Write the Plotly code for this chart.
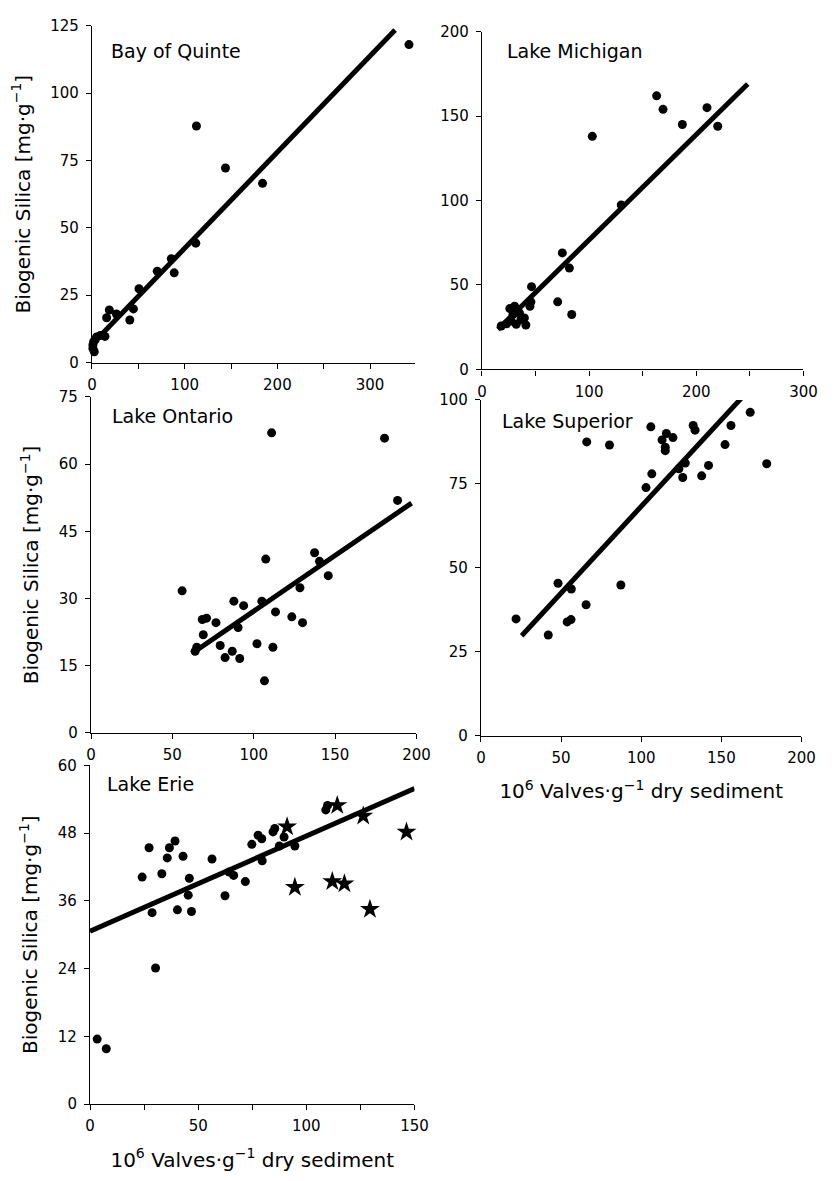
import plotly.graph_objects as go

# ---- data ----
quinte_x = [342, 112.7, 144, 184, 112, 85.6, 88.7, 70.4, 50.7, 44.7, 40.8, 26.4, 18.7,
            15.8, 14, 8.8, 5, 1.8, 1, 2.5, 1, 3.5]
quinte_y = [118, 87.8, 72.2, 66.5, 44.3, 38.5, 33.3, 33.9, 27.4, 19.9, 15.8, 18, 19.5,
            16.6, 9.7, 10, 9.5, 7.7, 5.2, 4, 6.5, 8.5]
quinte_fit_x = [3, 327]
quinte_fit_y = [7.8, 123.4]

michigan_x = [301, 163, 169, 187, 210, 220, 103, 130, 75, 81.6, 70.7, 83.8, 46.3, 45.7,
              44.8, 26, 29, 35, 39.6, 41, 32, 23, 18, 27.4, 36.5, 30.5]
michigan_y = [157, 162, 154, 145, 155, 144, 138, 97.4, 69, 60, 40, 32.5, 49, 40,
              37.4, 36, 32.5, 33.5, 30.5, 26.3, 26.7, 27, 25.7, 28.6, 29.6, 37.4]
michigan_fit_x = [15, 248]
michigan_fit_y = [23.7, 169]

ontario_x = [56, 111, 180.4, 188.4, 107.4, 137.4, 140.4, 145.8, 128.4, 105, 87.8, 93.8,
             113.4, 123.4, 130, 68.4, 71, 76.8, 69, 90.4, 79.4, 86.8, 82.4, 91.4, 102,
             111.8, 106.6, 65, 64]
ontario_y = [31.7, 67, 65.8, 51.9, 38.8, 40.2, 38.3, 35.1, 32.4, 29.4, 29.4, 28.4,
             27, 25.9, 24.6, 25.3, 25.6, 24.6, 21.9, 23.5, 19.5, 18.2, 16.8, 16.6, 19.9,
             19.1, 11.6, 19.1, 18.2]
ontario_fit_x = [62, 197]
ontario_fit_y = [17.7, 51.3]

superior_x = [168, 178.3, 156, 152.3, 142, 137.7, 132.4, 133.6, 127.5, 123.5, 125.9, 106,
              115.7, 119.8, 113, 115, 115, 106.6, 103, 66, 80.2, 48.1, 56.4, 87.3, 65.6,
              53.8, 56.2, 21.9, 42]
superior_y = [96.3, 81, 92.4, 86.7, 80.5, 77.4, 92.4, 91, 81.2, 79.5, 76.9, 92,
              90, 88.8, 88.1, 85.9, 84.9, 78, 73.9, 87.5, 86.6, 45.4, 43.7, 44.9, 39,
              33.9, 34.6, 34.8, 30]
superior_fit_x = [25.4, 162.4]
superior_fit_y = [29.8, 100.5]

erie_x = [3.3, 7.5, 30.3, 24.1, 27.3, 28.7, 33.2, 35.7, 36.7, 39.3, 43, 40.4, 45.9, 45.4,
          46.9, 56.4, 62.4, 66.4, 64.3, 71.8, 74.8, 77.7, 79.4, 79.6, 84.6, 85.4, 89.7,
          87.5, 94.7, 109, 109.8]
erie_y = [11.5, 9.8, 24.1, 40.2, 45.4, 33.9, 40.8, 43.6, 45.4, 46.6, 43.9, 34.4, 40, 37,
          34.1, 43.4, 36.9, 40.5, 41.1, 39.4, 46, 47.6, 47, 43.1, 48.2, 48.8, 47.3,
          45.7, 45.7, 52.1, 52.9]
erie_star_x = [91.1, 94.7, 112, 114.3, 117.6, 126.3, 129.4, 146.3]
erie_star_y = [49.1, 38.4, 39.4, 52.9, 39, 51, 34.5, 48.2]
erie_fit_x = [0, 150]
erie_fit_y = [30.6, 55.9]

Y_TITLE = "Biogenic Silica [mg·g<sup>−1</sup>]"
X_TITLE = "10<sup>6</sup> Valves·g<sup>−1</sup> dry sediment"
FONT = "DejaVu Sans"

W, H = 837, 1181


def dom_x(a, b):
    return [a / W, b / W]


def dom_y(top, bottom):
    return [1 - bottom / H, 1 - top / H]


panels = [
    # name, xs, ys, fx, fy, xdom, ydom, xrange, xticks, xminor, yticks, ytitle, xtitle, label pos
    ("Bay of Quinte", quinte_x, quinte_y, quinte_fit_x, quinte_fit_y,
     dom_x(89, 420), dom_y(17, 359), [0, 349],
     [0, 100, 200, 300], [50, 150, 250],
     [0, 25, 50, 75, 100, 125], True, False, (106, 43)),
    ("Lake Michigan", michigan_x, michigan_y, michigan_fit_x, michigan_fit_y,
     dom_x(488, 817), dom_y(23, 366), [0, 300],
     [0, 100, 200, 300], [50, 150, 250],
     [0, 50, 100, 150, 200], False, False, (512, 43)),
    ("Lake Ontario", ontario_x, ontario_y, ontario_fit_x, ontario_fit_y,
     dom_x(88, 421), dom_y(394, 735), [0, 200],
     [0, 50, 100, 150, 200], [],
     [0, 15, 30, 45, 60, 75], True, False, (107, 413)),
    ("Lake Superior", superior_x, superior_y, superior_fit_x, superior_fit_y,
     dom_x(487, 815), dom_y(397, 738), [0, 200],
     [0, 50, 100, 150, 200], [],
     [0, 25, 50, 75, 100], False, True, (507, 418)),
    ("Lake Erie", erie_x, erie_y, erie_fit_x, erie_fit_y,
     dom_x(87, 419), dom_y(768, 1112), [0, 150],
     [0, 50, 100, 150], [25, 75, 125],
     [0, 12, 24, 36, 48, 60], True, True, (102, 787)),
]

fig = go.Figure()
layout = {}
for i, (name, xs, ys, fx, fy, xd, yd, xr, xt, xm, yt, has_yt, has_xt, lab) in enumerate(panels):
    n = "" if i == 0 else str(i + 1)
    xa, ya = "x" + n, "y" + n
    fig.add_trace(go.Scatter(x=fx, y=fy, mode="lines", xaxis=xa, yaxis=ya,
                             line=dict(color="black", width=5), cliponaxis=False,
                             showlegend=False))
    fig.add_trace(go.Scatter(x=xs, y=ys, mode="markers", xaxis=xa, yaxis=ya,
                             marker=dict(color="black", size=9), cliponaxis=False,
                             showlegend=False))
    if name == "Lake Erie":
        fig.add_trace(go.Scatter(x=erie_star_x, y=erie_star_y, mode="markers",
                                 xaxis=xa, yaxis=ya, cliponaxis=False,
                                 marker=dict(color="black", size=15, symbol="star",
                                             line=dict(width=0)),
                                 showlegend=False))
    ax = dict(domain=xd, range=xr, tickvals=xt, anchor=ya,
              showline=True, linecolor="black", linewidth=1.2, ticks="outside",
              ticklen=5, tickcolor="black", showgrid=False, zeroline=False,
              ticklabelstandoff=3,
              tickfont=dict(size=15, color="black", family=FONT))
    if xm:
        ax["minor"] = dict(tickvals=xm, ticks="outside", ticklen=5, tickcolor="black",
                           showgrid=False)
    ay = dict(domain=yd, range=[0, yt[-1]], tickvals=yt, anchor=xa,
              showline=True, linecolor="black", linewidth=1.2, ticks="outside",
              ticklen=5, tickcolor="black", showgrid=False, zeroline=False,
              ticklabelstandoff=4,
              tickfont=dict(size=15, color="black", family=FONT))
    if has_yt:
        ay["title"] = dict(text=Y_TITLE, font=dict(size=20, color="black", family=FONT),
                           standoff=14)
    if has_xt:
        ax["title"] = dict(text=X_TITLE, font=dict(size=20, color="black", family=FONT),
                           standoff=18)
    layout["xaxis" + n] = ax
    layout["yaxis" + n] = ay
    fig.add_annotation(text=name, xref="paper", yref="paper",
                       x=lab[0] / W, y=1 - lab[1] / H, xanchor="left", yanchor="middle",
                       showarrow=False, font=dict(size=19, color="black", family=FONT))

fig.update_layout(**layout)
fig.update_layout(width=W, height=H, margin=dict(l=0, r=0, t=0, b=0),
                  paper_bgcolor="white", plot_bgcolor="white",
                  font=dict(family=FONT, color="black"))
# drop the browser's default 8px body margin so the figure sits at the page origin
fig.write_html("out.html", config={"displayModeBar": False},
               post_script="document.body.style.margin='0';")
